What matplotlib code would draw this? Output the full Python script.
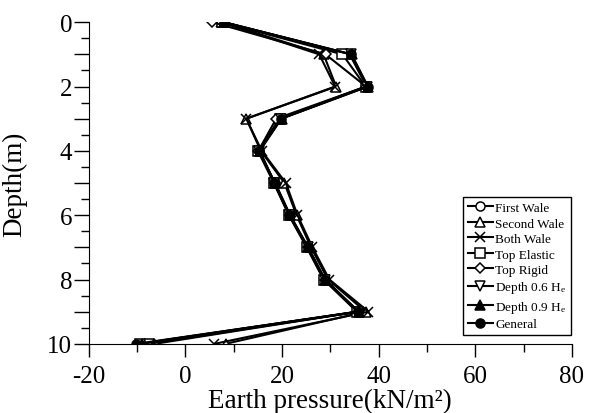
import matplotlib

matplotlib.use("Agg")
import matplotlib.pyplot as plt  # noqa: E402
from matplotlib.ticker import MultipleLocator  # noqa: E402

plt.rcParams["font.family"] = ["Liberation Serif", "DejaVu Serif"]
plt.rcParams["mathtext.fontset"] = "custom"
plt.rcParams["mathtext.rm"] = "Liberation Serif"
plt.rcParams["mathtext.it"] = "Liberation Serif:italic"
plt.rcParams["axes.unicode_minus"] = False

depth = [0, 1, 2, 3, 4, 5, 6, 7, 8, 9, 10]

first_wale = [7.8, 34.0, 37.5, 19.5, 15.2, 18.5, 21.6, 25.2, 28.7, 35.6, -9.8]
second_wale = [7.5, 28.6, 31.2, 12.6, 15.6, 20.5, 23.0, 26.0, 29.5, 37.3, 8.3]
both_wale = [7.4, 27.7, 31.0, 12.6, 15.8, 20.8, 23.2, 26.3, 29.8, 37.9, 6.0]
top_elastic = [7.6, 32.5, 37.3, 19.6, 15.0, 18.3, 21.4, 25.1, 28.6, 35.5, -9.3]
top_rigid = [5.6, 29.0, 37.4, 18.8, 15.1, 18.6, 21.7, 25.4, 28.9, 35.7, -6.4]
depth_06 = [7.9, 34.2, 37.6, 19.7, 15.3, 18.4, 21.5, 25.3, 28.8, 35.8, -7.6]
depth_09 = [8.0, 34.4, 37.8, 19.9, 15.4, 18.5, 21.6, 25.4, 28.9, 35.9, -9.0]
general = [8.0, 34.3, 37.7, 19.8, 15.3, 18.4, 21.5, 25.3, 28.8, 35.8, -10.2]

series = [
    ("First Wale", first_wale, "o", "white"),
    ("Second Wale", second_wale, "^", "white"),
    ("Both Wale", both_wale, "x", "black"),
    ("Top Elastic", top_elastic, "s", "white"),
    ("Top Rigid", top_rigid, "D", "white"),
    ("Depth 0.6 H$_\\mathrm{e}$", depth_06, "v", "white"),
    ("Depth 0.9 H$_\\mathrm{e}$", depth_09, "^", "black"),
    ("General", general, "o", "black"),
]

fig = plt.figure(figsize=(5.92, 4.14), dpi=100)
ax = fig.add_axes([0.150, 0.167, 0.816, 0.777])

for label, values, marker, face in series:
    size = 5 if marker == "D" else 6.5
    ax.plot(values, depth, color="black", linewidth=1.5, marker=marker,
            markersize=size, markerfacecolor=face, markeredgecolor="black",
            markeredgewidth=1.1, label=label)

ax.set_xlim(-20, 80)
ax.set_ylim(10, 0)
ax.spines["top"].set_visible(False)
ax.spines["right"].set_visible(False)

ax.xaxis.set_major_locator(MultipleLocator(20))
ax.xaxis.set_minor_locator(MultipleLocator(10))
ax.yaxis.set_minor_locator(MultipleLocator(0.5))
ax.set_yticks(depth)
ax.set_yticklabels([str(d) if d % 2 == 0 else "" for d in depth])

ax.tick_params(axis="x", which="major", direction="out", length=9.5, width=1, labelsize=18, pad=6)
ax.tick_params(axis="x", which="minor", direction="out", length=5.5, width=1)
ax.tick_params(axis="y", which="major", direction="out", length=11, width=1, labelsize=18, pad=1)
ax.tick_params(axis="y", which="minor", direction="out", length=6, width=1)

ax.set_xlabel("Earth pressure(kN/m²)", fontsize=19.5, labelpad=0)
ax.set_ylabel("Depth(m)", fontsize=19.5)
ax.yaxis.set_label_coords(-0.128, 0.5)

leg = ax.legend(loc="lower right", bbox_to_anchor=(0.998, 0.028), fontsize=9.5,
                frameon=True, fancybox=False, edgecolor="black", framealpha=1,
                handlelength=1.9, handletextpad=0.2, labelspacing=0.25,
                borderpad=0.35, borderaxespad=0)
leg.get_frame().set_linewidth(1.0)

fig.savefig("out.png", dpi=100)
